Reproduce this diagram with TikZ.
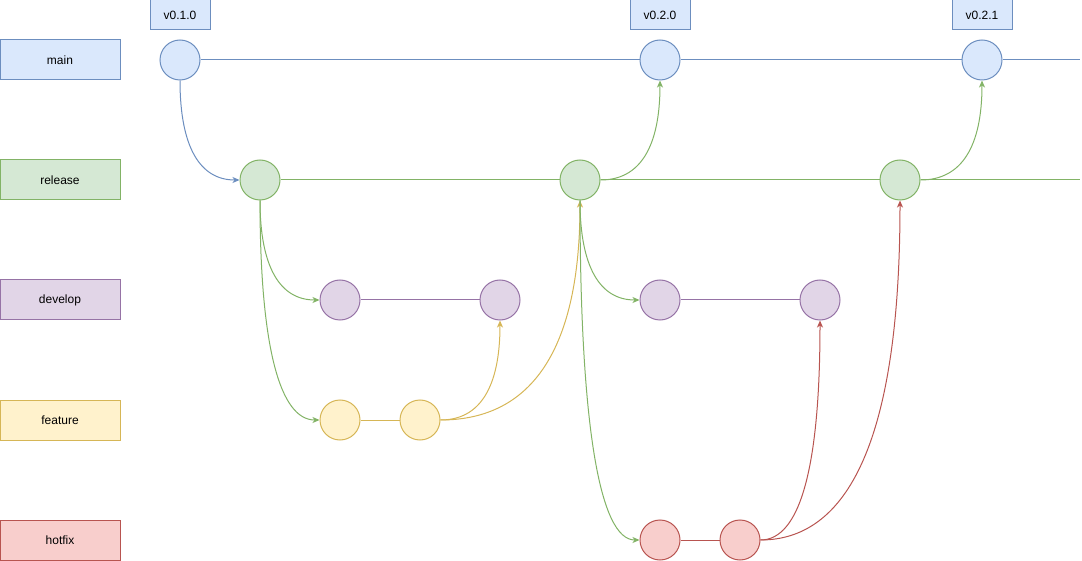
\documentclass[tikz,border=0pt]{standalone}
\usepackage{fontspec}
\setmainfont{Liberation Sans}
\usetikzlibrary{arrows.meta,calc}
\definecolor{bluef}{HTML}{DAE8FC}\definecolor{blues}{HTML}{6C8EBF}
\definecolor{greenf}{HTML}{D5E8D4}\definecolor{greens}{HTML}{82B366}
\definecolor{purplef}{HTML}{E1D5E7}\definecolor{purples}{HTML}{9673A6}
\definecolor{yellowf}{HTML}{FFF2CC}\definecolor{yellows}{HTML}{D6B656}
\definecolor{redf}{HTML}{F8CECC}\definecolor{reds}{HTML}{B85450}
\begin{document}
\begin{tikzpicture}[x=1pt,y=-1pt,line width=1pt,
  every node/.style={font=\fontsize{12}{14}\selectfont},
  lanebox/.style={draw, minimum width=120pt, minimum height=40pt, inner sep=0pt},
  commit/.style={circle, draw, minimum size=40pt, inner sep=0pt},
  tagbox/.style={draw=blues, fill=bluef, minimum width=60pt, minimum height=30pt, inner sep=0pt},
  bl/.style={draw=blues, fill=bluef},
  gr/.style={draw=greens, fill=greenf},
  pu/.style={draw=purples, fill=purplef},
  ye/.style={draw=yellows, fill=yellowf},
  re/.style={draw=reds, fill=redf},
  link/.style={-{Stealth[length=7pt,width=6pt,inset=2pt]}},
  qv/.style={to path={.. controls ($(\tikztostart)!2/3!(\tikztostart|-\tikztotarget)$) and ($(\tikztotarget)!2/3!(\tikztostart|-\tikztotarget)$) .. (\tikztotarget)}},
  qh/.style={to path={.. controls ($(\tikztostart)!2/3!(\tikztotarget|-\tikztostart)$) and ($(\tikztotarget)!2/3!(\tikztotarget|-\tikztostart)$) .. (\tikztotarget)}},
]
\useasboundingbox (0,0) rectangle (1082,561);
% lane labels
\node[lanebox,bl] (lmain) at (60,60) {main};
\node[lanebox,gr] (lrel) at (60,180) {release};
\node[lanebox,pu] (ldev) at (60,300) {develop};
\node[lanebox,ye] (lfeat) at (60,420) {feature};
\node[lanebox,re] (lhot) at (60,540) {hotfix};
% tags
\node[tagbox] (t1) at (180,15) {v0.1.0};
\node[tagbox] (t2) at (660,15) {v0.2.0};
\node[tagbox] (t3) at (982,15) {v0.2.1};
% commits
\node[commit,bl] (c1) at (180,60) {};
\node[commit,bl] (c2) at (660,60) {};
\node[commit,bl] (c3) at (982,60) {};
\coordinate (cend) at (1080,60);
\node[commit,gr] (r1) at (260,180) {};
\node[commit,gr] (r2) at (580,180) {};
\node[commit,gr] (r3) at (900,180) {};
\coordinate (rend) at (1080,180);
\node[commit,pu] (d1) at (340,300) {};
\node[commit,pu] (d2) at (500,300) {};
\node[commit,pu] (d3) at (660,300) {};
\node[commit,pu] (d4) at (820,300) {};
\node[commit,ye] (f1) at (340,420) {};
\node[commit,ye] (f2) at (420,420) {};
\node[commit,re] (h1) at (660,540) {};
\node[commit,re] (h2) at (740,540) {};
% branch lines
\draw[blues] (c1) -- (c2) -- (c3) -- (cend);
\draw[greens] (r1) -- (r2) -- (r3) -- (rend);
\draw[purples] (d1) -- (d2);
\draw[purples] (d3) -- (d4);
\draw[yellows] (f1) -- (f2);
\draw[reds] (h1) -- (h2);
% merges
\draw[blues,link] (c1.south) to[qv] (r1.west);
\draw[greens,link] (r1.south) to[qv] (d1.west);
\draw[greens,link] (r1.south) to[qv] (f1.west);
\draw[yellows,link] (f2.east) to[qh] (d2.south);
\draw[yellows,link] (f2.east) to[qh] (r2.south);
\draw[greens,link] (r2.east) to[qh] (c2.south);
\draw[greens,link] (r2.south) to[qv] (d3.west);
\draw[greens,link] (r2.south) to[qv] (h1.west);
\draw[reds,link] (h2.east) to[qh] (d4.south);
\draw[reds,link] (h2.east) to[qh] (r3.south);
\draw[greens,link] (r3.east) to[qh] (c3.south);
\end{tikzpicture}
\end{document}
